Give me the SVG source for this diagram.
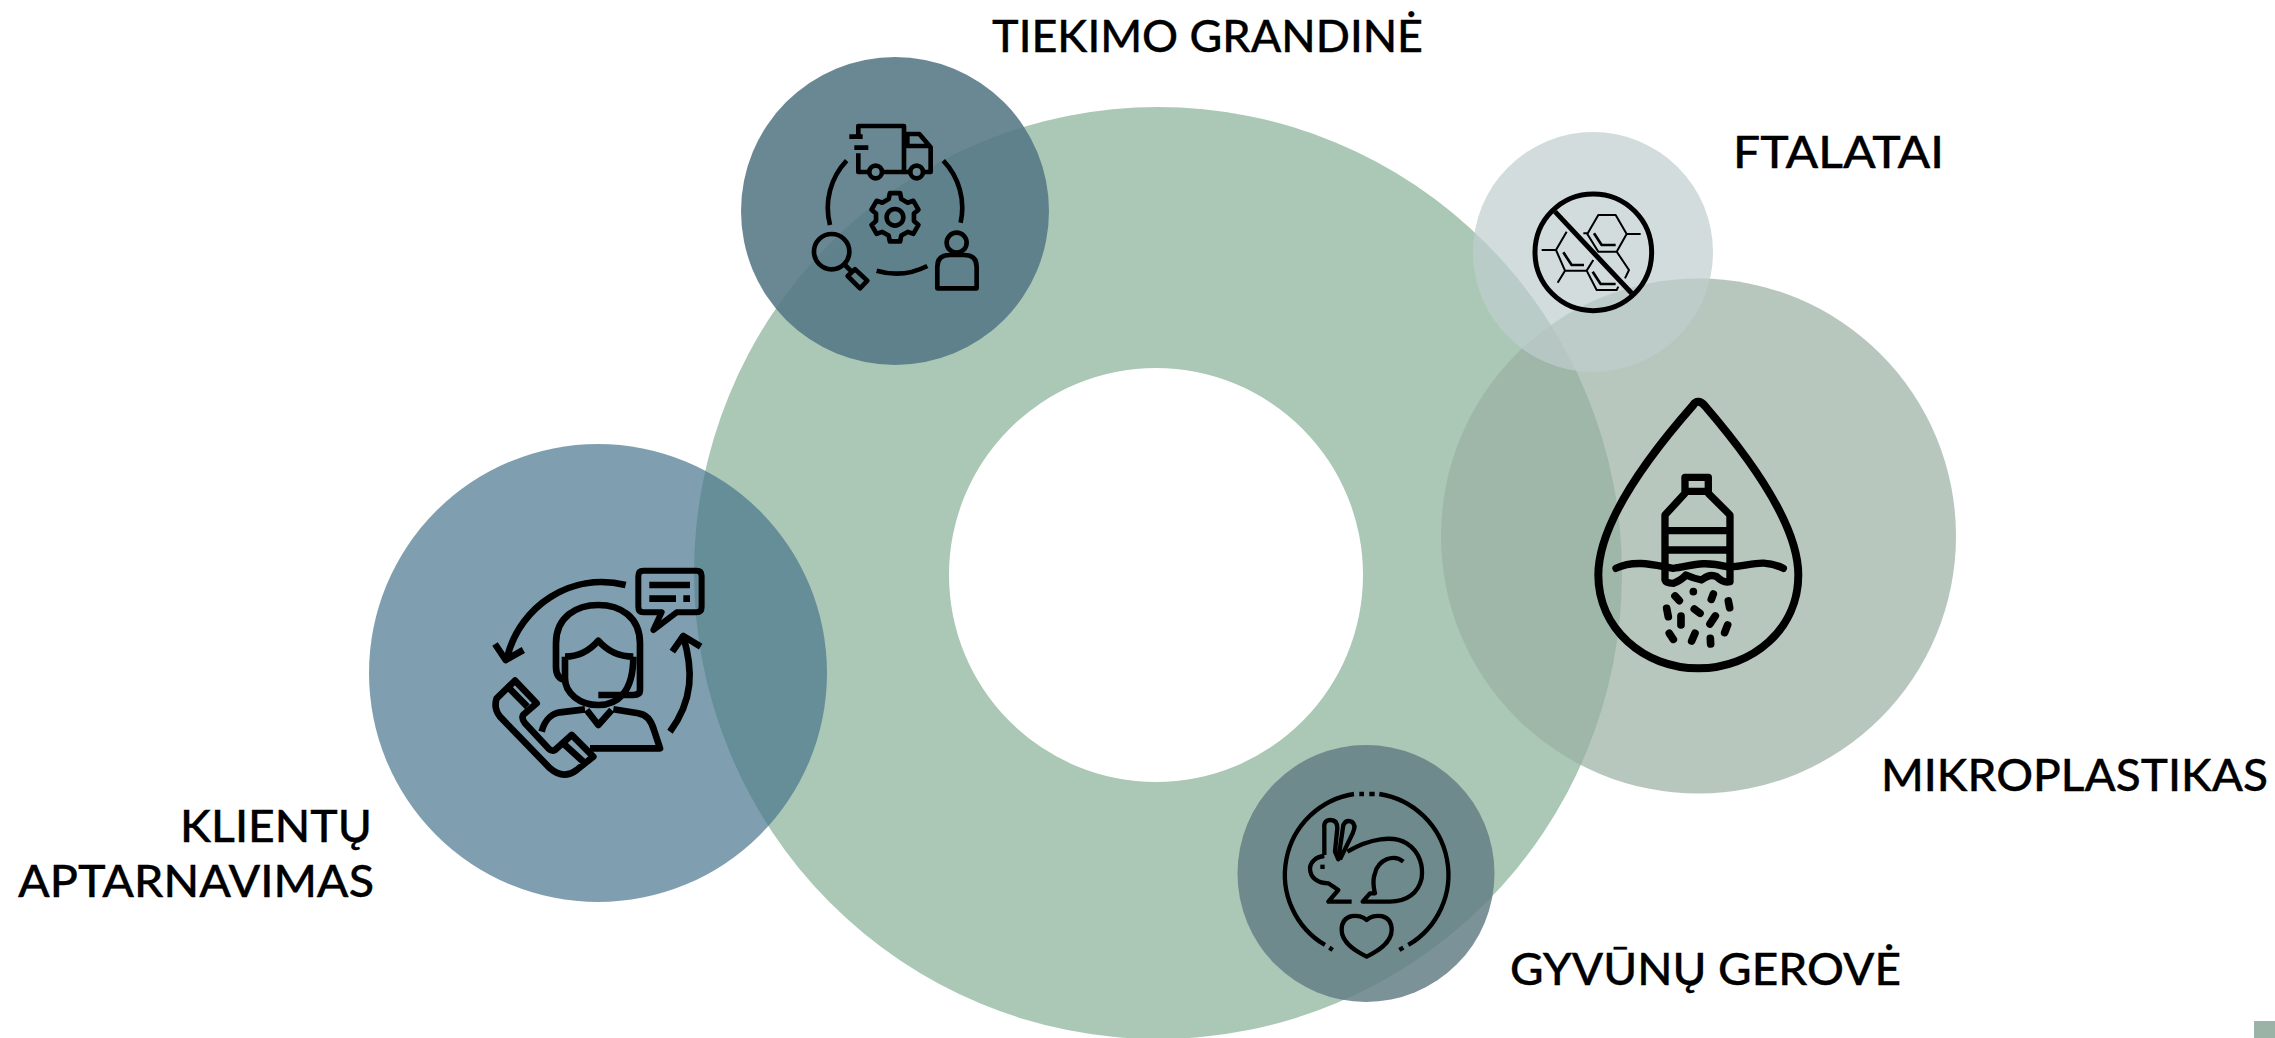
<svg xmlns="http://www.w3.org/2000/svg" width="2275" height="1038" viewBox="0 0 2275 1038">
<style>
.t{font-family:"Lato","Open Sans","Liberation Sans",sans-serif;font-size:44px;font-weight:500;fill:#000;stroke:#000;stroke-width:.3px}
.i{fill:none;stroke:#000;stroke-linejoin:round}
.r{stroke-linecap:round}
</style>
<rect width="2275" height="1038" fill="#fff"/>
<g id="ring"><path fill="#abc8b6" fill-rule="evenodd" d="M694,573a464,466 0 1 0 928,0a464,466 0 1 0 -928,0ZM949,575a207,207 0 1 0 414,0a207,207 0 1 0 -414,0Z"/></g>
<g id="connectors"></g>
<g id="mikroplastikas">
<circle cx="1698.5" cy="536" r="257.5" fill="#99b0a2" fill-opacity=".71"/>
<g class="i r" transform="translate(1560,380) scale(.3333)" stroke-width="24">
<path d="M400,75Q405,65 415,65Q425,65 435,78C540,200 715,420 715,585C715,745 580,865 415,865C250,865 115,745 115,585C115,420 290,200 400,75Z"/>
<rect x="375" y="292" width="70" height="42" stroke-width="22"/>
<path stroke-width="22" d="M375,340L315,405V600Q318,610 340,610Q365,600 378,585Q400,595 425,600Q450,580 470,590Q490,610 510,605V405L445,340M315,452H510M315,510H510"/>
<path stroke-width="22" d="M168,565C230,535 300,560 340,565C390,560 420,540 500,560C560,565 600,530 670,565"/>
<path stroke-width="23" d="M345,648L358,662M400,635h.1M454,658L460,642M505,663L509,683M320,685L325,710M403,687L420,700M363,708V735M450,732L466,708M494,758L503,735M328,760L340,778M395,783L405,760M451,775L452,792"/>
</g>
<text class="t" x="1881" y="791" textLength="387" lengthAdjust="spacingAndGlyphs">MIKROPLASTIKAS</text>
</g>
<g id="ftalatai">
<circle cx="1593" cy="252" r="120" fill="#bfcece" fill-opacity=".71"/>
<g class="i" transform="translate(1470,120) scale(.3333)">
<circle cx="370" cy="397" r="175" stroke-width="15"/>
<path stroke-width="15" d="M255,275L485,520"/>
<path stroke-width="6" d="M385,285H437L470,342L440,395H385L352,342ZM470,342H512M340,340H352M440,395L477,450L465,475M290,335L258,390L285,452H350L370,420M258,390H215M285,452L263,488M350,452L380,510H440L445,500"/>
<path stroke-width="8" d="M372,340L395,375H437M280,397L305,435H342M368,455L392,492H437"/>
</g>
<text class="t" x="1733" y="168" textLength="211" lengthAdjust="spacingAndGlyphs">FTALATAI</text>
</g>
<g id="tiekimo-grandine">
<circle cx="895" cy="211" r="154" fill="#547684" fill-opacity=".87"/>
<g class="i" transform="translate(720,40) scale(.3333)" stroke-width="14">
<path d="M415,290V258H552V396H488M415,340V396H446M552,282H598L632,322V396H610M570,396H552M562,285V318H632"/>
<circle cx="467" cy="396" r="19"/><circle cx="590" cy="396" r="19"/>
<path d="M388,290H428M403,323H445"/>
<path d="M380,362A205,205 0 0 0 330,555M670,362A205,205 0 0 1 722,548M470,692A205,205 0 0 0 622,678"/>
<path d="M509.600,459.600H540.400L543.900,477.200L563.100,488.200L580,482.500L595.400,509.100L581.900,520.900V543.100L595.400,554.900L580,581.500L563.100,575.800L543.900,586.800L540.400,604.400H509.600L506.100,586.800L486.900,575.800L470,581.500L454.600,554.900L468.100,543.100V520.900L454.600,509.100L470,482.500L486.900,488.200L506.100,477.200Z"/>
<circle cx="525" cy="532" r="25"/>
<circle cx="335" cy="635" r="53"/>
<path d="M372,672L398,698M405,688L442,722L420,745L383,708Z"/>
<circle cx="710" cy="608" r="30"/>
<path d="M652,745V680Q652,645 690,645H732Q770,645 770,680V745Z"/>
</g>
<text class="t" x="992" y="52" textLength="431" lengthAdjust="spacingAndGlyphs">TIEKIMO GRANDINĖ</text>
</g>
<g id="klientu-aptarnavimas">
<circle cx="598" cy="673" r="229" fill="#46748c" fill-opacity=".69"/>
<g class="i" transform="translate(470,550) scale(.3333)" stroke-width="20">
<path d="M467,105C300,65 150,170 112,320M75,282L107,330L160,300"/>
<path stroke-width="18" d="M520,62H680Q695,62 695,78V170Q695,187 680,187H620L550,240L575,187H520Q505,187 505,170V78Q505,62 520,62Z"/>
<path d="M538,105H660M538,146H618M640,146H660"/>
<path d="M600,545C670,450 670,360 640,260M607,305L640,258L692,290"/>
<path d="M285,390Q258,385 258,350V280C258,200 320,165 385,165C450,165 510,200 510,280V420Q510,435 490,435H385"/>
<path d="M285,320C330,320 365,295 385,272C405,295 440,320 490,320M285,320V385C285,430 330,465 385,465C440,465 490,430 490,320"/>
<path d="M350,480L385,525L425,480M215,545C225,505 250,490 270,487L345,478M430,478L505,490C530,493 545,515 552,540L570,595H360"/>
<path d="M135,392L80,445Q70,475 90,500L240,655Q280,690 320,660L370,620L305,555L255,600Q245,605 235,595L165,520Q150,500 165,490L200,460ZM118,415L172,470M285,585L345,640"/>
</g>
<text class="t" x="180" y="842" textLength="192" lengthAdjust="spacingAndGlyphs">KLIENTŲ</text>
<text class="t" x="18" y="897" textLength="356" lengthAdjust="spacingAndGlyphs">APTARNAVIMAS</text>
</g>
<g id="gyvunu-gerove">
<circle cx="1366" cy="873.500" r="128.500" fill="#627e85" fill-opacity=".845"/>
<g class="i" transform="translate(1260,770) scale(.3333)" stroke-width="13">
<path d="M282,72A245,245 0 0 0 195,525M358,72A245,245 0 0 1 445,525M298,72H312M328,72H344M208,533L218,540M418,540L430,533"/>
<path d="M193,255V175Q190,150 212,150Q232,150 232,175L225,245L235,268L250,165Q258,148 275,155Q290,165 278,190L240,268"/>
<path d="M262,245C330,205 400,195 440,220C480,245 490,290 485,325C475,370 440,395 390,395H308L330,370H345C345,370 335,335 345,310C355,270 400,250 430,275"/>
<path d="M193,258C165,260 150,280 150,295C150,325 175,340 205,340L235,360L205,395H275"/>
<rect x="181" y="284" width="13" height="13" fill="#000" stroke="none"/>
<path d="M320,450C300,430 245,430 245,480C245,520 290,545 320,560C350,545 395,520 395,480C395,430 340,430 320,450Z"/>
</g>
<text class="t" x="1510" y="985" textLength="391" lengthAdjust="spacingAndGlyphs">GYVŪNŲ GEROVĖ</text>
</g>
<rect id="corner-square" x="2254" y="1021" width="21" height="17" fill="#9bb3a6"/>
</svg>
